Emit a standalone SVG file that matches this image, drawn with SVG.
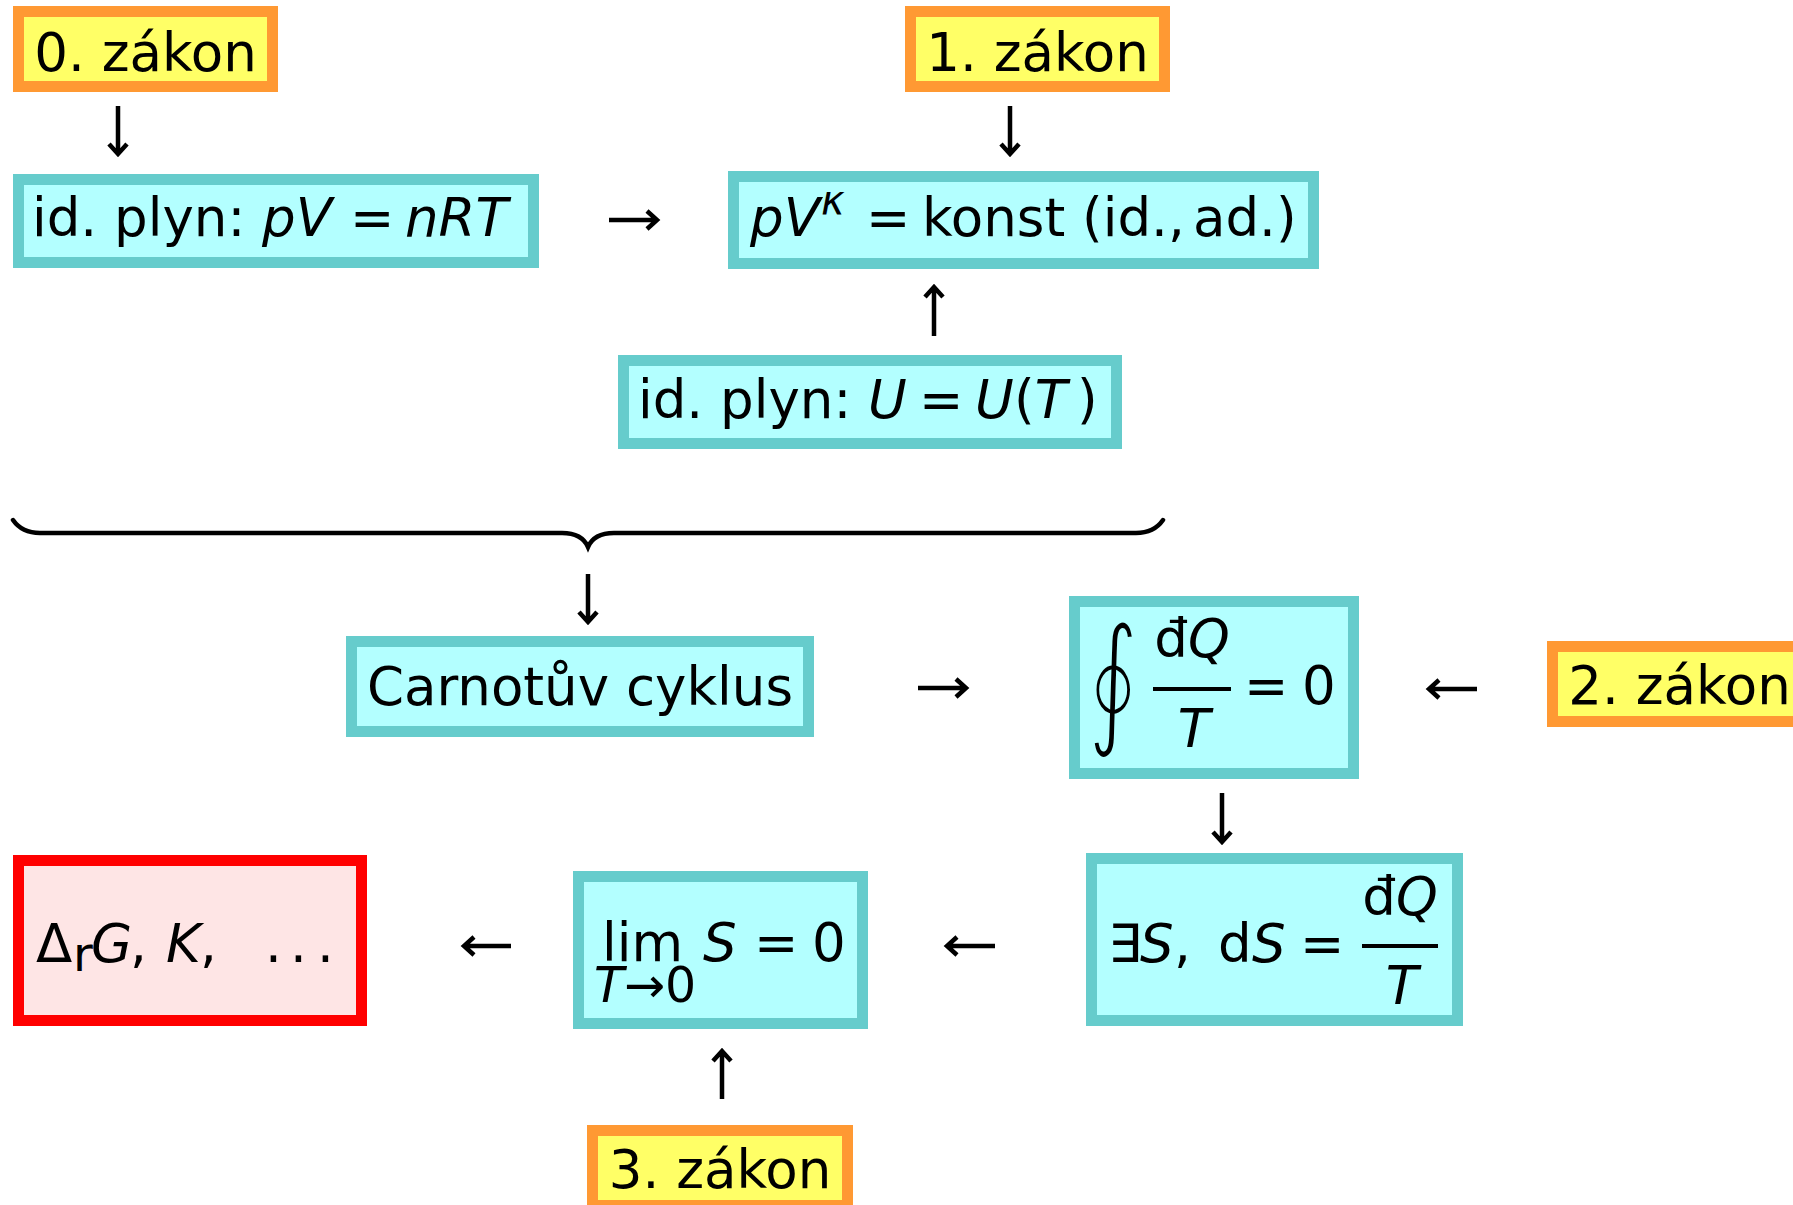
<svg xmlns="http://www.w3.org/2000/svg" width="1793" height="1205" viewBox="0 0 1793 1205">
<style>
text{font-family:"DejaVu Sans","Liberation Sans",sans-serif;font-size:53px;fill:#000}
.i{font-style:italic}
.law rect{fill:#ffff66;stroke:#ff9933;stroke-width:11}
.eq rect{fill:#b3ffff;stroke:#66cccc;stroke-width:11}
.res rect{fill:#fee5e5;stroke:#ff0000;stroke-width:11}
.c{text-anchor:middle}
#connectors path{fill:none;stroke:#000;stroke-width:4.5;stroke-linejoin:miter}
#brace{fill:none;stroke:#000;stroke-width:5;stroke-linecap:round}
.bar{stroke:#000;stroke-width:4}
.oint{font-size:144px;stroke:#b3ffff;stroke-width:5;paint-order:fill}
</style>
<rect width="1793" height="1205" fill="#fff"/>

<g id="zakon0" class="law">
<rect x="18.5" y="11.5" width="254" height="75"/>
<text class="c" x="145.5" y="71">0. zákon</text>
</g>
<g id="zakon1" class="law">
<rect x="910.5" y="11.5" width="254" height="75"/>
<text class="c" x="1037.5" y="71">1. zákon</text>
</g>
<g id="zakon2" class="law">
<rect x="1552.5" y="646.5" width="254" height="75"/>
<text class="c" x="1679.5" y="704">2. zákon</text>
</g>
<g id="zakon3" class="law">
<rect x="592.5" y="1130.5" width="255" height="75"/>
<text class="c" x="720" y="1188">3. zákon</text>
</g>

<g id="idealgas" class="eq">
<rect x="18.5" y="179.5" width="515" height="83"/>
<text y="236"><tspan x="32">id. plyn: </tspan><tspan class="i">pV</tspan><tspan x="350">=</tspan><tspan x="405" class="i">nRT</tspan></text>
</g>
<g id="adiabat" class="eq">
<rect x="733.5" y="176.5" width="580" height="87"/>
<text y="236"><tspan x="750" class="i">pV</tspan><tspan x="821" y="214" class="i" style="font-size:40px">κ</tspan><tspan x="866" y="236">=</tspan><tspan x="922">konst (id.,</tspan><tspan x="1193">ad.)</tspan></text>
</g>
<g id="internal" class="eq">
<rect x="623.5" y="360.5" width="493" height="83"/>
<text y="418"><tspan x="638">id. plyn: </tspan><tspan x="868" class="i">U</tspan><tspan x="919">=</tspan><tspan x="975" class="i">U</tspan><tspan x="1014">(</tspan><tspan class="i">T</tspan><tspan x="1077">)</tspan></text>
</g>
<g id="carnot" class="eq">
<rect x="351.5" y="641.5" width="457" height="90"/>
<text class="c" x="580" y="705">Carnotův cyklus</text>
</g>
<g id="clausius" class="eq">
<rect x="1074.5" y="601.5" width="279" height="172"/>
<text class="oint" transform="translate(1087,729) scale(0.7,1)">∮</text>
<text class="c" x="1192" y="657">đ<tspan class="i">Q</tspan></text>
<line class="bar" x1="1153" y1="689" x2="1231" y2="689"/>
<text class="c i" x="1194" y="747">T</text>
<text y="704"><tspan x="1244">=</tspan><tspan x="1302">0</tspan></text>
</g>
<g id="entropy" class="eq">
<rect x="1091.5" y="858.5" width="366" height="162"/>
<text y="962"><tspan x="1108">∃</tspan><tspan x="1140" class="i">S</tspan><tspan x="1174">,</tspan><tspan x="1218">d</tspan><tspan x="1252" class="i">S</tspan><tspan x="1300">=</tspan></text>
<text class="c" x="1400" y="915">đ<tspan class="i">Q</tspan></text>
<line class="bar" x1="1362" y1="946" x2="1438" y2="946"/>
<text class="c i" x="1402" y="1004">T</text>
</g>
<g id="third" class="eq">
<rect x="578.5" y="876.5" width="284" height="147"/>
<text y="961"><tspan x="602">lim</tspan><tspan x="703" class="i">S</tspan><tspan x="754">=</tspan><tspan x="812">0</tspan></text>
<text y="1002" style="font-size:49px"><tspan x="594" class="i">T</tspan><tspan>→0</tspan></text>
</g>
<g id="applications" class="res">
<rect x="18.5" y="860.5" width="343" height="160"/>
<text y="962"><tspan x="36">Δ</tspan><tspan x="73" y="971" style="font-size:48px">r</tspan><tspan x="91" y="962" class="i">G</tspan><tspan x="130">,</tspan><tspan x="166" class="i">K</tspan><tspan x="200">,</tspan><tspan x="265">.</tspan><tspan x="290">.</tspan><tspan x="317">.</tspan></text>
</g>

<g id="connectors">
<path id="brace" d="M13,520 Q22,533 40,533 L562,533 Q582,533 588,547 Q594,533 614,533 L1136,533 Q1154,533 1163,520"/>
<path d="M118,106 V154 M109,144 L118,154 L127,144"/>
<path d="M1010,106 V154 M1001,144 L1010,154 L1019,144"/>
<path d="M609,220 H657 M647,211 L657,220 L647,229"/>
<path d="M934,336 V287 M925,297 L934,287 L943,297"/>
<path d="M588,574 V622 M579,612 L588,622 L597,612"/>
<path d="M918,688 H966 M956,679 L966,688 L956,697"/>
<path d="M1477,689 H1429 M1439,680 L1429,689 L1439,698"/>
<path d="M1222,793 V842 M1213,832 L1222,842 L1231,832"/>
<path d="M995,946 H947 M957,937 L947,946 L957,955"/>
<path d="M511,946 H464 M474,937 L464,946 L474,955"/>
<path d="M722,1099 V1051 M713,1061 L722,1051 L731,1061"/>
</g>
</svg>
